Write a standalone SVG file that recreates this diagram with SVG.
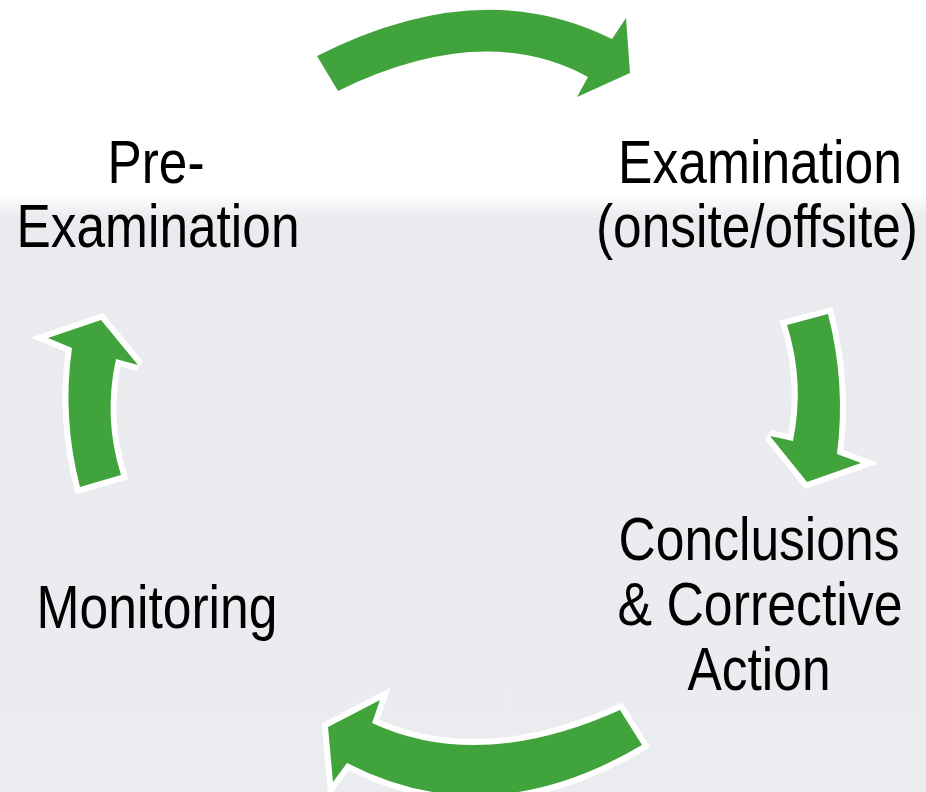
<svg xmlns="http://www.w3.org/2000/svg" width="926" height="792" viewBox="0 0 926 792">
  <defs>
    <linearGradient id="bg" x1="0" y1="0" x2="0" y2="792" gradientUnits="userSpaceOnUse">
      <stop offset="0" stop-color="#ffffff"/>
      <stop offset="0.245" stop-color="#ffffff"/>
      <stop offset="0.275" stop-color="#e9ebee"/>
      <stop offset="1" stop-color="#eaecef"/>
    </linearGradient>
    <style>
      .lbl { font-family: "Liberation Sans", Arial, sans-serif; font-size: 61px; fill: #000000; text-anchor: middle; }
      .arrow { fill: #41a33c; stroke: #ffffff; stroke-width: 12; stroke-linejoin: miter; stroke-miterlimit: 3; paint-order: stroke; }
    </style>
  </defs>
  <rect x="0" y="0" width="926" height="792" fill="url(#bg)"/>

  <g id="connectors">
    <path class="arrow" d="M 317,56 Q 481,-27 612,39 L 626,18 L 630,73 L 577,97 L 588,77 Q 483,20 338,91 Z"/>
    <path class="arrow" d="M 787,325 L 828,314 Q 846,384 837,454 L 861,463 L 807,482 L 770,436 L 793,441 Q 805,382 787,325 Z"/>
    <path class="arrow" d="M 620,710 L 642,745 Q 488,836 347,763 L 333,782 L 328,727 L 380,700 L 372,723 Q 480,773 620,710 Z"/>
    <path class="arrow" d="M 80,487 Q 62,417 72,348 L 48,338 L 101,320 L 138,365 L 116,359 Q 103,418 121,475 Z"/>
  </g>

  <g id="node-pre-examination">
    <text class="lbl" x="156" y="183" textLength="97" lengthAdjust="spacingAndGlyphs">Pre-</text>
    <text class="lbl" x="158" y="247" textLength="283" lengthAdjust="spacingAndGlyphs">Examination</text>
  </g>
  <g id="node-examination">
    <text class="lbl" x="760" y="183" textLength="284" lengthAdjust="spacingAndGlyphs">Examination</text>
    <text class="lbl" x="757" y="247" textLength="322" lengthAdjust="spacingAndGlyphs">(onsite/offsite)</text>
  </g>
  <g id="node-conclusions">
    <text class="lbl" x="759" y="560" textLength="281" lengthAdjust="spacingAndGlyphs">Conclusions</text>
    <text class="lbl" x="760" y="625" textLength="285" lengthAdjust="spacingAndGlyphs">&amp; Corrective</text>
    <text class="lbl" x="759" y="690" textLength="143" lengthAdjust="spacingAndGlyphs">Action</text>
  </g>
  <g id="node-monitoring">
    <text class="lbl" x="157" y="628" textLength="241" lengthAdjust="spacingAndGlyphs">Monitoring</text>
  </g>
</svg>
